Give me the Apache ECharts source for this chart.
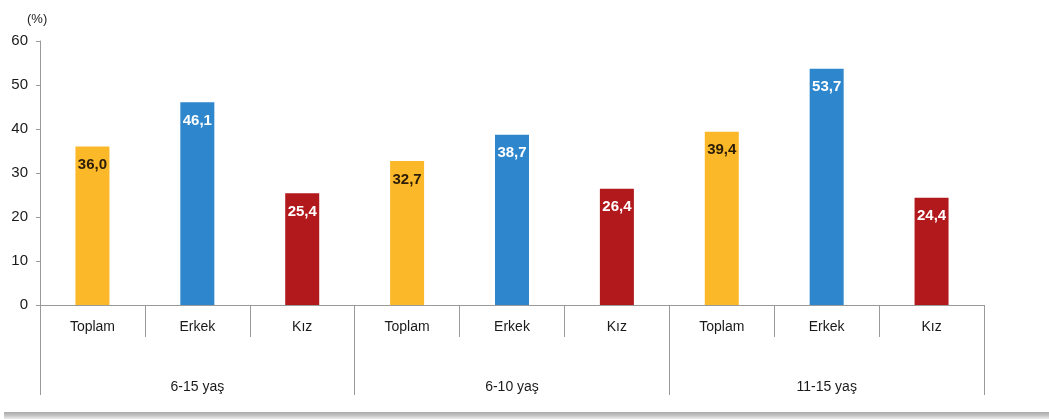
<!DOCTYPE html>
<html>
<head>
<meta charset="utf-8">
<script src="https://cdn.jsdelivr.net/npm/echarts@6/dist/echarts.min.js"></script>
<style>
  html, body { margin: 0; padding: 0; background: #fff; }
  #wrap { position: relative; width: 1049px; height: 419px; overflow: hidden; }
  #chart { position: absolute; left: 0; top: 0; width: 1049px; height: 419px; }
  #shadow {
    position: absolute; left: 4px; right: 0; top: 412px; height: 7px;
    background: linear-gradient(to bottom, #aaaaaa 0%, #c4c4c4 50%, #ececec 100%);
  }
</style>
</head>
<body>
<div id="wrap">
  <div id="chart"></div>
  <div id="shadow"></div>
</div>
<script>
// Age groups and the three bars within each group
const groups = ['6-15 yaş', '6-10 yaş', '11-15 yaş'];
const categories = ['Toplam', 'Erkek', 'Kız', 'Toplam', 'Erkek', 'Kız', 'Toplam', 'Erkek', 'Kız'];
// Share (%) for each bar, in category order
const values = [36.0, 46.1, 25.4, 32.7, 38.7, 26.4, 39.4, 53.7, 24.4];
const yTicks = [0, 10, 20, 30, 40, 50, 60];

const barColors = ['#FBB829', '#2E86CC', '#B2191C'];
const labelColors = ['#2b1d08', '#ffffff', '#ffffff'];
const font = 'Arial, "Liberation Sans", sans-serif';

const chart = echarts.init(document.getElementById('chart'), null, { renderer: 'canvas' });
chart.setOption({
  animation: false,
  backgroundColor: '#fff',
  grid: { left: 40, right: 65, top: 41, bottom: 114, containLabel: false },
  graphic: [{
    type: 'text', left: 27, top: 13,
    style: { text: '(%)', font: '13px ' + font, fill: '#222' }
  }],
  xAxis: [{
    type: 'category',
    data: categories,
    position: 'bottom',
    axisLine: { show: true, lineStyle: { color: '#9a9a9a', width: 1 } },
    axisTick: { show: true, interval: 0, length: 32, lineStyle: { color: '#9a9a9a' } },
    axisLabel: { interval: 0, margin: 15, color: '#1a1a1a', fontSize: 14, fontFamily: font }
  }, {
    type: 'category',
    data: groups,
    position: 'bottom',
    axisLine: { show: false },
    axisTick: { show: true, interval: 0, length: 90, lineStyle: { color: '#9a9a9a' } },
    axisLabel: { interval: 0, margin: 75, color: '#1a1a1a', fontSize: 14, fontFamily: font }
  }],
  yAxis: {
    type: 'value',
    min: yTicks[0],
    max: yTicks[yTicks.length - 1],
    interval: yTicks[1] - yTicks[0],
    axisLine: { show: true, lineStyle: { color: '#9a9a9a' } },
    axisTick: { show: true, length: 4, lineStyle: { color: '#9a9a9a' } },
    splitLine: { show: false },
    axisLabel: { margin: 12, color: '#1a1a1a', fontSize: 15, fontFamily: font }
  },
  series: [{
    type: 'bar',
    xAxisIndex: 0,
    barWidth: 34,
    data: values.map((v, i) => ({
      value: v,
      itemStyle: { color: barColors[i % 3] },
      label: { color: labelColors[i % 3] }
    })),
    label: {
      show: true,
      position: 'insideTop',
      distance: 11,
      fontSize: 15,
      fontWeight: 'bold',
      fontFamily: font,
      formatter: p => p.value.toFixed(1).replace('.', ',')
    }
  }]
});
</script>
</body>
</html>
